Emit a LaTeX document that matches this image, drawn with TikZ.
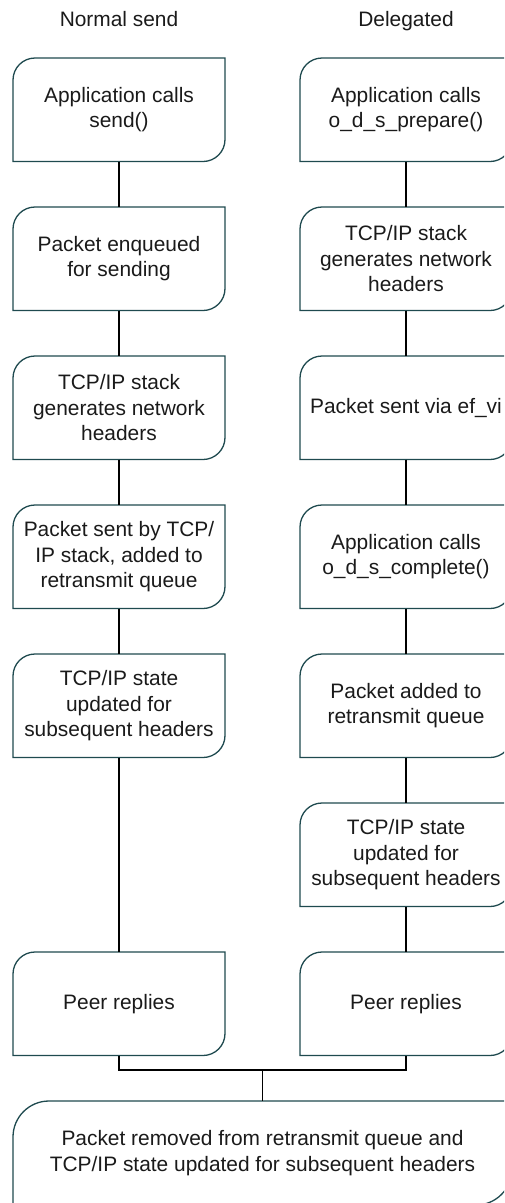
\documentclass[tikz,border=0pt]{standalone}
\usepackage{fontspec}
\setmainfont{Liberation Sans}
\usetikzlibrary{calc}

\definecolor{edgeteal}{HTML}{1F4A4F}
\definecolor{inktext}{HTML}{1A1A1A}

% outline with rounded top-left and bottom-right corners
\newcommand\boxoutline[2]{%
  \draw[boxline] ($(#1.north west)+(#2,0)$) -- (#1.north east)
    -- ($(#1.south east)+(0,#2)$) arc[start angle=0,end angle=-90,radius=#2]
    -- (#1.south west) -- ($(#1.north west)+(0,-#2)$)
    arc[start angle=180,end angle=90,radius=#2] -- cycle;}

\begin{document}
\begin{tikzpicture}[
  txt/.style={font=\fontsize{20.9}{25.5}\selectfont, text=inktext, align=center},
  stepbox/.style={txt, minimum width=212pt, minimum height=103.5pt,
    inner sep=0pt, outer sep=0pt},
  finalbox/.style={txt, minimum width=499pt, minimum height=104pt,
    inner sep=0pt, outer sep=0pt},
  colhead/.style={txt, anchor=base, inner sep=0pt},
  boxline/.style={draw=edgeteal, line width=1.3pt},
  link/.style={draw=black, line width=1.3pt}
]
\clip (0,0) rectangle (504pt,-1203pt);

% column headings
\node[colhead] (hl) at (119pt,-26.7pt) {Normal send};
\node[colhead] (hr) at (406pt,-26.7pt) {Delegated};

% normal send column
\node[stepbox] (l1) at (119pt,-109.75pt) {Application calls\\send()};
\node[stepbox] (l2) at (119pt,-258.75pt) {Packet enqueued\\for sending};
\node[stepbox] (l3) at (119pt,-407.75pt) {TCP/IP stack\\generates network\\headers};
\node[stepbox] (l4) at (119pt,-556.75pt) {Packet sent by TCP/\\IP stack, added to\\retransmit queue};
\node[stepbox] (l5) at (119pt,-705.75pt) {TCP/IP state\\updated for\\subsequent headers};
\node[stepbox] (l6) at (119pt,-1003.75pt) {Peer replies};

% delegated column
\node[stepbox] (r1) at (406pt,-109.75pt) {Application calls\\o\_d\_s\_prepare()};
\node[stepbox] (r2) at (406pt,-258.75pt) {TCP/IP stack\\generates network\\headers};
\node[stepbox] (r3) at (406pt,-407.75pt) {Packet sent via ef\_vi};
\node[stepbox] (r4) at (406pt,-556.75pt) {Application calls\\o\_d\_s\_complete()};
\node[stepbox] (r5) at (406pt,-705.75pt) {Packet added to\\retransmit queue};
\node[stepbox] (r6) at (406pt,-854.75pt) {TCP/IP state\\updated for\\subsequent headers};
\node[stepbox] (r7) at (406pt,-1003.75pt) {Peer replies};

% common final step
\node[finalbox] (fin) at (262.5pt,-1153pt) {Packet removed from retransmit queue and\\TCP/IP state updated for subsequent headers};

\foreach \n in {l1,l2,l3,l4,l5,l6,r1,r2,r3,r4,r5,r6,r7} {\boxoutline{\n}{22pt}}
\boxoutline{fin}{36pt}

% connectors
\foreach \a/\b in {l1/l2,l2/l3,l3/l4,l4/l5,l5/l6,r1/r2,r2/r3,r3/r4,r4/r5,r5/r6,r6/r7}
  \draw[link] (\a.south) -- (\b.north);

\coordinate (join) at (262.5pt,-1070pt);
\draw[link] (l6.south) -- (l6.south |- join) -- (r7.south |- join) -- (r7.south);
\draw[link] (join) -- (fin.north);
\end{tikzpicture}
\end{document}
